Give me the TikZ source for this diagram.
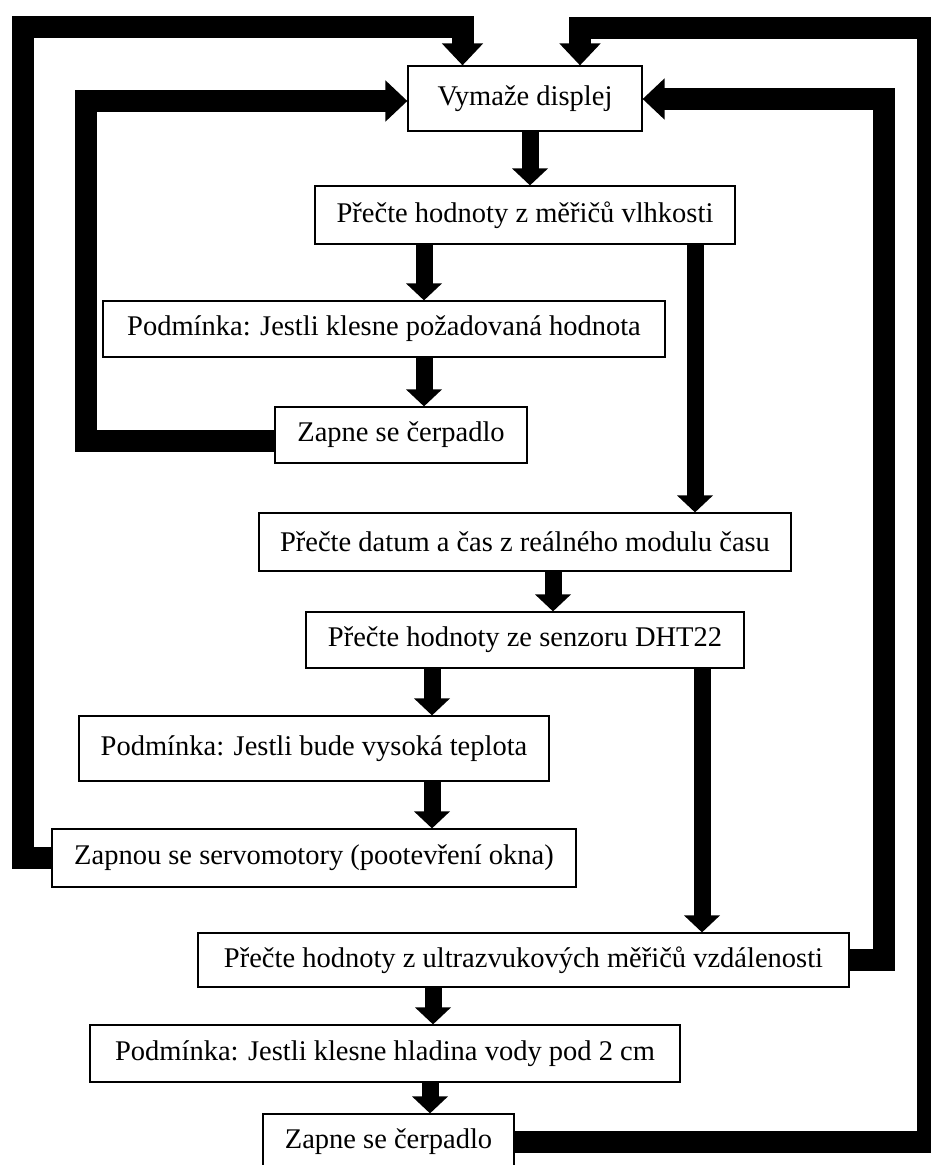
\documentclass[tikz,border=0pt]{standalone}
\usepackage{fontspec}
\setmainfont{Liberation Serif}
\usetikzlibrary{arrows.meta}

\begin{document}
\begin{tikzpicture}[x=1pt, y=-1pt,
        box/.style={draw, line width=1.2pt, fill=white, inner sep=0pt, font=\fontsize{28.5}{34}\selectfont},
        flow/.style={line width=17pt, -{Triangle[width=35pt, length=17pt]}},
        backline/.style={line width=22pt, line join=miter, -{Triangle[width=40pt, length=22pt]}}]
        \useasboundingbox (0,0) rectangle (931,1165);
        % boxes
        \node[box, minimum width=234pt, minimum height=65pt] (v) at (525,98.5) {Vymaže displej};
        \node[box, minimum width=420pt, minimum height=58pt] (vl) at (525,215) {Přečte hodnoty z měřičů vlhkosti};
        \node[box, minimum width=562pt, minimum height=56pt] (pozad) at (384,329) {Podmínka: Jestli klesne požadovaná hodnota};
        \node[box, minimum width=252pt, minimum height=56pt] (zap1) at (401,435) {Zapne se čerpadlo};
        \node[box, minimum width=532pt, minimum height=58pt] (datum) at (525,542) {Přečte datum a čas z reálného modulu času};
        \node[box, minimum width=438pt, minimum height=56pt] (dht) at (525,640) {Přečte hodnoty ze senzoru DHT22};
        \node[box, minimum width=470pt, minimum height=65pt] (tepl) at (314,748.5) {Podmínka: Jestli bude vysoká teplota};
        \node[box, minimum width=524pt, minimum height=58pt] (servo) at (314,858) {Zapnou se servomotory (pootevření okna)};
        \node[box, minimum width=651pt, minimum height=54pt] (ultra) at (523.5,960) {Přečte hodnoty z ultrazvukových měřičů vzdálenosti};
        \node[box, minimum width=590pt, minimum height=57pt] (hlad) at (385,1053.5) {Podmínka: Jestli klesne hladina vody pod 2 cm};
        \node[box, minimum width=251pt, minimum height=56pt] (zap2) at (388.5,1142) {Zapne se čerpadlo};
        % arrows down
        \foreach \a/\da/\b/\db in {v/5/vl/5, vl/-101/pozad/40, pozad/40/zap1/23,
                vl/170/datum/170, datum/28/dht/28, dht/-93/tepl/118, tepl/118/servo/118,
                dht/177/ultra/178.5, ultra/-90.5/hlad/48, hlad/45/zap2/41.5}
            \draw[flow] ([xshift=\da pt]\a.south) -- ([xshift=\db pt]\b.north);
        % loops back to the display
        \coordinate (lo) at (22.5,27);
        \coordinate (ro) at (928,27.5);
        \coordinate (li) at (85.5,101);
        \coordinate (ri) at (884,99);
        \draw[backline] (servo.west) -| (lo) -| ([xshift=-62.5pt]v.north);
        \draw[backline] (zap2.east) -| (ro) -| ([xshift=55pt]v.north);
        \draw[backline] ([yshift=-5.5pt]zap1.west) -| (li) -- (li -| v.west);
        \draw[backline] (ultra.east) -| (ri) -- (ri -| v.east);
\end{tikzpicture}
\end{document}
